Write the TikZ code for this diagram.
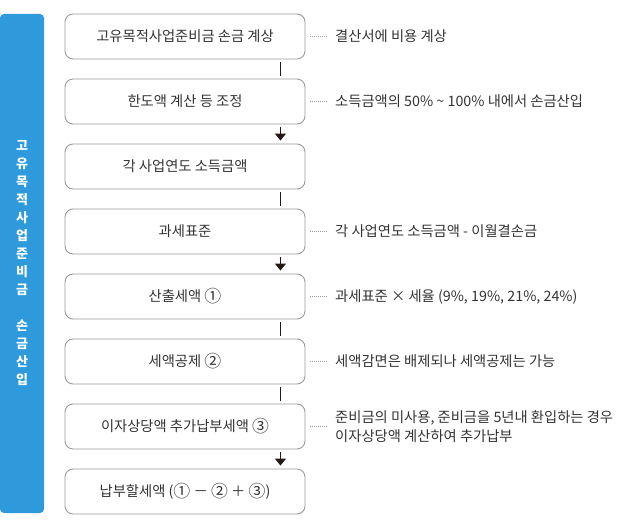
\documentclass[tikz,border=0pt]{standalone}
\usepackage{fontspec}
\setmainfont{Noto Sans CJK KR}
\usetikzlibrary{arrows.meta}
\definecolor{barblue}{HTML}{2E9ADC}
\definecolor{boxgray}{HTML}{9A9A9A}
\definecolor{txt}{HTML}{333333}
\definecolor{arr}{HTML}{231815}
\newcommand{\circnum}[1]{\raisebox{-0.12em}{\scalebox{1.18}{#1}}}
\tikzset{
  stepbox/.style={draw=boxgray, line width=0.9pt, rounded corners=8pt, minimum width=240pt, minimum height=45pt, inner sep=0pt, font=\fontsize{14.3}{17}\selectfont, text=txt},
  note/.style={anchor=west, inner sep=0pt, font=\fontsize{14.3}{18.5}\selectfont, text=txt, align=left},
  conn/.style={draw=arr, line width=1pt, shorten <=3pt, shorten >=3pt},
  connarrow/.style={conn, -{Triangle[width=11pt,length=7pt]}},
  dots/.style={draw=boxgray, line width=0.8pt, dash pattern=on 0.8pt off 1.2pt},
}
\begin{document}
\begin{tikzpicture}[x=1pt,y=-1pt]
\useasboundingbox (0,0) rectangle (623,532);
% side bar
\path[fill=barblue, rounded corners=4pt] (0,14) rectangle (44,513);
\node[text=white, font=\bfseries\fontsize{13}{18}\selectfont, align=center, inner sep=0pt] (bar) at (22,263.5)
  {고\\유\\목\\적\\사\\업\\준\\비\\금\\[18pt]손\\금\\산\\입};
% boxes
\node[stepbox] (b1) at (185,36.5) {고유목적사업준비금 손금 계상};
\node[stepbox] (b2) at (185,101.5) {한도액 계산 등 조정};
\node[stepbox] (b3) at (185,166.5) {각 사업연도 소득금액};
\node[stepbox] (b4) at (185,231.5) {과세표준};
\node[stepbox] (b5) at (185,296.5) {산출세액 \circnum{①}};
\node[stepbox] (b6) at (185,361.5) {세액공제 \circnum{②}};
\node[stepbox] (b7) at (185,426.5) {이자상당액 추가납부세액 \circnum{③}};
\node[stepbox] (b8) at (185,491.5) {납부할세액 (\circnum{①} － \circnum{②} ＋ \circnum{③})};
% connectors
\draw[conn] ([xshift=-25pt]b1.south east) -- ([xshift=-25pt]b2.north east);
\draw[connarrow] ([xshift=-25pt]b2.south east) -- ([xshift=-25pt]b3.north east);
\draw[conn] ([xshift=-25pt]b3.south east) -- ([xshift=-25pt]b4.north east);
\draw[connarrow] ([xshift=-25pt]b4.south east) -- ([xshift=-25pt]b5.north east);
\draw[conn] ([xshift=-25pt]b5.south east) -- ([xshift=-25pt]b6.north east);
\draw[conn] ([xshift=-25pt]b6.south east) -- ([xshift=-25pt]b7.north east);
\draw[connarrow] ([xshift=-25pt]b7.south east) -- ([xshift=-25pt]b8.north east);
% notes
\node[note] (n1) at (335,36.5) {결산서에 비용 계상};
\node[note] (n2) at (335,101.5) {소득금액의 50\% \textasciitilde{} 100\% 내에서 손금산입};
\node[note] (n4) at (335,231.5) {각 사업연도 소득금액 - 이월결손금};
\node[note] (n5) at (335,296.5) {과세표준 × 세율 (9\%, 19\%, 21\%, 24\%)};
\node[note] (n6) at (335,361.5) {세액감면은 배제되나 세액공제는 가능};
\node[note] (n7) at (335,426.5) {준비금의 미사용, 준비금을 5년내 환입하는 경우\\이자상당액 계산하여 추가납부};
\foreach \b/\n in {b1/n1,b2/n2,b4/n4,b5/n5,b6/n6,b7/n7}{
  \draw[dots] ([xshift=5pt]\b.east) -- ([xshift=-8pt]\n.west |- \b.east);
}
\end{tikzpicture}
\end{document}
